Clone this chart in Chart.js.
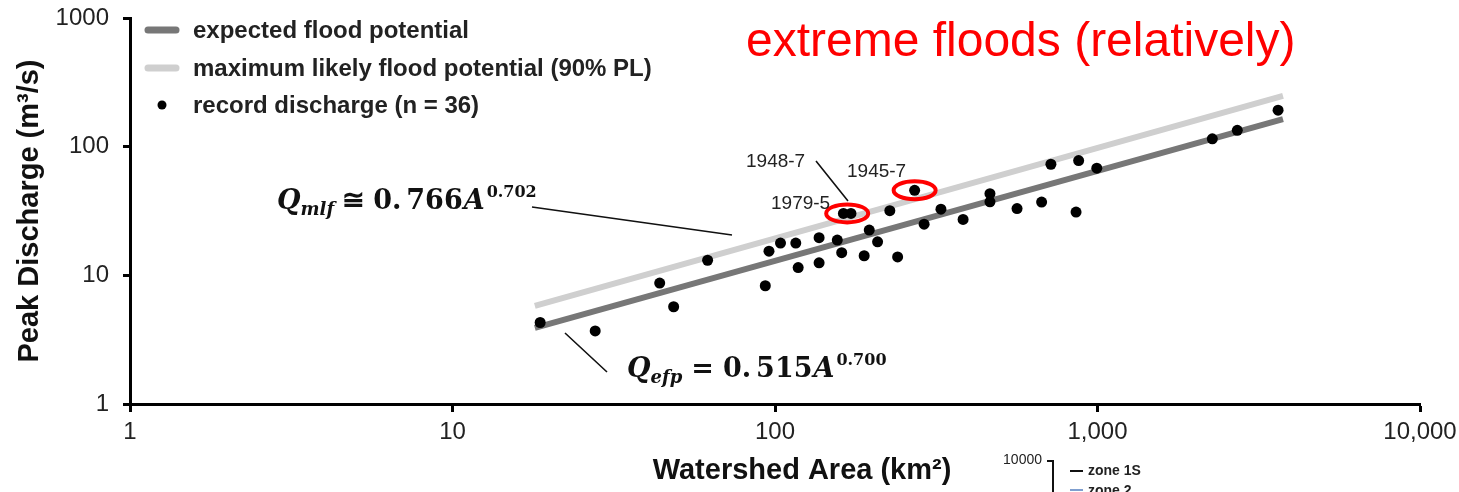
<!DOCTYPE html>
<html>
<head>
<meta charset="utf-8">
<script src="https://cdn.jsdelivr.net/npm/chart.js@4.4.1/dist/chart.umd.min.js"></script>
<style>
  html, body { margin: 0; padding: 0; background: #fff; }
  #wrap { width: 1459px; height: 492px; position: relative; }
</style>
</head>
<body>
<div id="wrap"><canvas id="flood"></canvas></div>
<script>
// ===== Data =====
const areaKm2 = [18.7, 27.7, 43.9, 48.5, 61.8, 93.3, 95.8, 104, 116, 118, 137, 137, 156, 161, 163, 172, 189, 196,
  208, 227, 240, 271, 290, 327, 383, 464, 464, 563, 671, 717, 858, 874, 995, 2270, 2713, 3630];
const peakQ = [4.3, 3.7, 8.7, 5.7, 13.1, 8.3, 15.4, 17.8, 17.8, 11.5, 19.6, 12.5, 18.8, 15.0, 30.3, 30.3, 14.2, 22.5,
  18.2, 31.8, 13.9, 45.8, 25.0, 32.7, 27.2, 43.1, 37.3, 33.0, 37.1, 73, 31, 78, 68, 115, 134, 192];

// fitted envelopes (end points)
const fitArea = [18, 3760];
const efpQ = [3.9, 164];
const mlfQ = [5.8, 248];

const xTicks = [1, 10, 100, 1000, 10000];
const xTickLabels = ['1', '10', '100', '1,000', '10,000'];
const yTicks = [1, 10, 100, 1000];
const yTickLabels = ['1', '10', '100', '1000'];

// flagged events: label + point indices
const eventLabels = ['1979-5', '1948-7', '1945-7'];
const eventIdx = [14, 15, 21];

const SANS = '"Liberation Sans", Arial, sans-serif';
const SERIF = '"DejaVu Serif", "Liberation Serif", serif';

function pairs(xs, ys) {
  return xs.map((v, i) => ({ x: v, y: ys[i] }));
}

// draw text pieces one after another (gap = space before piece, dy = baseline shift)
function drawRuns(ctx, x, y, runs) {
  runs.forEach(r => {
    ctx.font = r.font;
    x += r.gap || 0;
    ctx.fillText(r.text, x, y + (r.dy || 0));
    x += ctx.measureText(r.text).width;
  });
}

// ===== Annotation plugin =====
const floodNotes = {
  id: 'floodNotes',
  afterDatasetsDraw(chart) {
    const { ctx, scales: { x, y } } = chart;
    const px = i => x.getPixelForValue(areaKm2[i]);
    const py = i => y.getPixelForValue(peakQ[i]);
    ctx.save();

    // red rings around flagged events
    ctx.strokeStyle = '#ff0000';
    ctx.lineWidth = 4;
    ctx.beginPath();
    ctx.ellipse((px(eventIdx[0]) + px(eventIdx[1])) / 2, py(eventIdx[0]), 21, 9, 0, 0, Math.PI * 2);
    ctx.stroke();
    ctx.beginPath();
    ctx.ellipse(px(eventIdx[2]), py(eventIdx[2]), 21, 9, 0, 0, Math.PI * 2);
    ctx.stroke();

    // event labels
    ctx.fillStyle = '#222';
    ctx.font = '19px ' + SANS;
    ctx.textBaseline = 'middle';
    ctx.textAlign = 'left';
    ctx.fillText(eventLabels[1], 746, 162);
    ctx.fillText(eventLabels[2], 847, 172);
    ctx.fillText(eventLabels[0], 771, 204);

    // leader lines
    ctx.strokeStyle = '#111';
    ctx.lineWidth = 1.6;
    ctx.beginPath();
    ctx.moveTo(816, 161); ctx.lineTo(848, 201);
    ctx.moveTo(532, 207); ctx.lineTo(732, 235);
    ctx.moveTo(565, 333); ctx.lineTo(607, 372);
    ctx.stroke();

    // equations
    ctx.fillStyle = '#111';
    ctx.textBaseline = 'alphabetic';
    const bi = s => 'italic bold ' + s + 'px ' + SERIF;
    const b = s => 'bold ' + s + 'px ' + SERIF;
    drawRuns(ctx, 277, 209, [
      { text: 'Q', font: bi(27) },
      { text: 'mlf', font: bi(18), dy: 6 },
      { text: '\u2245', font: b(27), gap: 8 },
      { text: '0.', font: b(27), gap: 8 },
      { text: '766', font: b(27), gap: 5 },
      { text: 'A', font: bi(27), gap: 1 },
      { text: '0.702', font: b(16), gap: 2, dy: -12 }
    ]);
    drawRuns(ctx, 627, 377, [
      { text: 'Q', font: bi(27) },
      { text: 'efp', font: bi(18), dy: 6 },
      { text: '=', font: b(27), gap: 9 },
      { text: '0.', font: b(27), gap: 9 },
      { text: '515', font: b(27), gap: 5 },
      { text: 'A', font: bi(27), gap: 1 },
      { text: '0.700', font: b(16), gap: 2, dy: -12 }
    ]);

    // legend
    ctx.lineCap = 'round';
    ctx.lineWidth = 7;
    ctx.strokeStyle = '#777';
    ctx.beginPath(); ctx.moveTo(148, 30); ctx.lineTo(176, 30); ctx.stroke();
    ctx.strokeStyle = '#cfcfcf';
    ctx.beginPath(); ctx.moveTo(148, 68); ctx.lineTo(176, 68); ctx.stroke();
    ctx.fillStyle = '#000';
    ctx.beginPath(); ctx.arc(162, 105, 4.5, 0, Math.PI * 2); ctx.fill();
    ctx.fillStyle = '#222';
    ctx.font = 'bold 24px ' + SANS;
    ctx.textBaseline = 'middle';
    ctx.fillText('expected flood potential', 193, 31);
    ctx.fillText('maximum likely flood potential (90% PL)', 193, 69);
    ctx.fillText('record discharge (n = 36)', 193, 106);

    // red heading
    ctx.fillStyle = '#ff0000';
    ctx.font = '48px ' + SANS;
    ctx.textBaseline = 'alphabetic';
    ctx.fillText('extreme floods (relatively)', 746, 56);

    // axis titles
    ctx.fillStyle = '#111';
    ctx.font = 'bold 29px ' + SANS;
    ctx.textAlign = 'center';
    ctx.textBaseline = 'middle';
    ctx.fillText('Watershed Area (km\u00b2)', 802, 471);
    ctx.save();
    ctx.translate(30, 211);
    ctx.rotate(-Math.PI / 2);
    ctx.fillText('Peak Discharge (m\u00b3/s)', 0, 0);
    ctx.restore();

    // fragment of the next figure, bottom right
    ctx.textAlign = 'right';
    ctx.font = '14px ' + SANS;
    ctx.fillStyle = '#222';
    ctx.fillText('10000', 1042, 460);
    ctx.lineCap = 'butt';
    ctx.lineWidth = 2;
    ctx.strokeStyle = '#111';
    ctx.beginPath();
    ctx.moveTo(1047, 461); ctx.lineTo(1053, 461); ctx.lineTo(1053, 492);
    ctx.moveTo(1070, 471); ctx.lineTo(1083, 471);
    ctx.stroke();
    ctx.strokeStyle = '#7f9fcf';
    ctx.beginPath(); ctx.moveTo(1070, 490); ctx.lineTo(1083, 490); ctx.stroke();
    ctx.textAlign = 'left';
    ctx.font = 'bold 14px ' + SANS;
    ctx.fillText('zone 1S', 1088, 471);
    ctx.fillText('zone 2', 1088, 491);

    ctx.restore();
  }
};

// ===== Chart =====
const ctx = document.getElementById('flood').getContext('2d');
new Chart(ctx, {
  type: 'scatter',
  data: {
    datasets: [
      {
        label: 'record discharge (n = 36)',
        data: pairs(areaKm2, peakQ),
        backgroundColor: '#000',
        borderWidth: 0,
        pointRadius: 5.5,
        order: 0
      },
      {
        label: 'expected flood potential',
        data: pairs(fitArea, efpQ),
        showLine: true,
        borderColor: '#777',
        borderWidth: 6,
        borderCapStyle: 'butt',
        pointRadius: 0,
        order: 1
      },
      {
        label: 'maximum likely flood potential (90% PL)',
        data: pairs(fitArea, mlfQ),
        showLine: true,
        borderColor: '#cfcfcf',
        borderWidth: 6,
        borderCapStyle: 'butt',
        pointRadius: 0,
        order: 2
      }
    ]
  },
  options: {
    responsive: true,
    maintainAspectRatio: false,
    animation: false,
    layout: { padding: { top: 18, right: 39, left: 0, bottom: 0 } },
    plugins: {
      legend: { display: false },
      tooltip: { enabled: false }
    },
    scales: {
      x: {
        type: 'logarithmic',
        min: 1,
        max: 10000,
        afterBuildTicks: s => { s.ticks = xTicks.map(v => ({ value: v })); },
        afterFit: s => { s.height = 88; s.paddingLeft = 0; s.paddingRight = 0; },
        ticks: {
          callback: (v, i) => xTickLabels[i],
          font: { family: SANS, size: 24 },
          color: '#222',
          padding: 6,
          maxRotation: 0,
          autoSkip: false
        },
        grid: { drawOnChartArea: false, tickLength: 8, tickWidth: 3, tickColor: '#000' },
        border: { color: '#000', width: 3 }
      },
      y: {
        type: 'logarithmic',
        min: 1,
        max: 1000,
        afterBuildTicks: s => { s.ticks = yTicks.map(v => ({ value: v })); },
        afterFit: s => { s.width = 130; s.paddingTop = 0; s.paddingBottom = 0; },
        ticks: {
          callback: (v, i) => yTickLabels[i],
          font: { family: SANS, size: 24 },
          color: '#222',
          padding: 14,
          autoSkip: false
        },
        grid: { drawOnChartArea: false, tickLength: 7, tickWidth: 3, tickColor: '#000' },
        border: { color: '#000', width: 3 }
      }
    }
  },
  plugins: [floodNotes]
});
</script>
</body>
</html>
